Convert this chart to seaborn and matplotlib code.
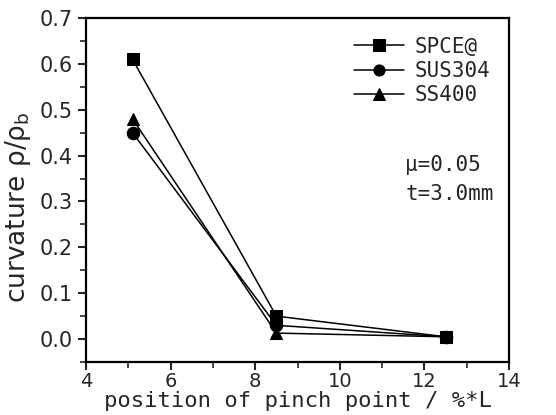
import matplotlib
matplotlib.use("Agg")
import matplotlib.pyplot as plt
import seaborn as sns
import pandas as pd
from matplotlib.ticker import MultipleLocator

positions = [5.1, 8.5, 12.5]
spce = [0.61, 0.05, 0.005]
sus304 = [0.45, 0.03, 0.005]
ss400 = [0.48, 0.013, 0.005]
series = ["SPCE@", "SUS304", "SS400"]
markers = {"SPCE@": "s", "SUS304": "o", "SS400": "^"}

df = pd.DataFrame({
    "x": positions * 3,
    "y": spce + sus304 + ss400,
    "series": [series[0]] * 3 + [series[1]] * 3 + [series[2]] * 3,
})

sns.set_style("white")
plt.rcParams["font.family"] = ["DejaVu Sans"]
plt.rcParams["mathtext.fontset"] = "dejavusans"

fig = plt.figure(figsize=(5.56, 4.15), dpi=100)
ax = fig.add_axes([86/556, 1 - 362/415, (509-86)/556, (362-18)/415])

sns.lineplot(data=df, x="x", y="y", hue="series", style="series",
             markers=markers, dashes=False, palette=["black"] * 3,
             markersize=9, linewidth=1.1, markeredgecolor="black",
             ax=ax, legend=True)

ax.set_xlim(4, 14)
ax.set_ylim(-0.05, 0.7)
ax.xaxis.set_major_locator(MultipleLocator(2))
ax.xaxis.set_minor_locator(MultipleLocator(1))
ax.yaxis.set_minor_locator(MultipleLocator(0.05))
ax.set_yticks([0.0, 0.1, 0.2, 0.3, 0.4, 0.5, 0.6, 0.7])
ax.set_yticklabels(["0.0", "0.1", "0.2", "0.3", "0.4", "0.5", "0.6", "0.7"])
ax.tick_params(axis="y", which="major", direction="out", length=6, width=1.5,
               labelsize=15, left=True, right=False)
ax.tick_params(axis="x", which="major", direction="out", length=6, width=1.5,
               labelsize=14, pad=1, bottom=True, top=False)
ax.tick_params(axis="both", which="minor", direction="out", length=4, width=1.2,
               bottom=True, left=True)
for s in ax.spines.values():
    s.set_linewidth(1.6)
    s.set_color("black")

ax.set_xlabel("position of pinch point / %*L", family="DejaVu Sans Mono",
              fontsize=16, labelpad=0)
ax.set_ylabel("curvature \u03c1/\u03c1$_\\mathrm{b}$", family="DejaVu Sans",
              fontsize=19)
ax.yaxis.set_label_coords(-0.125, 0.45)

leg = ax.legend(loc="upper right", bbox_to_anchor=(1.0, 1.0), frameon=False,
                handlelength=2.4, handletextpad=0.5, labelspacing=0.2,
                prop={"family": "DejaVu Sans Mono", "size": 15})
for h in leg.legend_handles:
    h.set_markersize(8)

ax.text(0.755, 0.555, "\u03bc=0.05", transform=ax.transAxes, fontsize=15,
        family="DejaVu Sans Mono")
ax.text(0.755, 0.47, "t=3.0mm", transform=ax.transAxes, fontsize=15,
        family="DejaVu Sans Mono")

fig.savefig("out.png", dpi=100)
